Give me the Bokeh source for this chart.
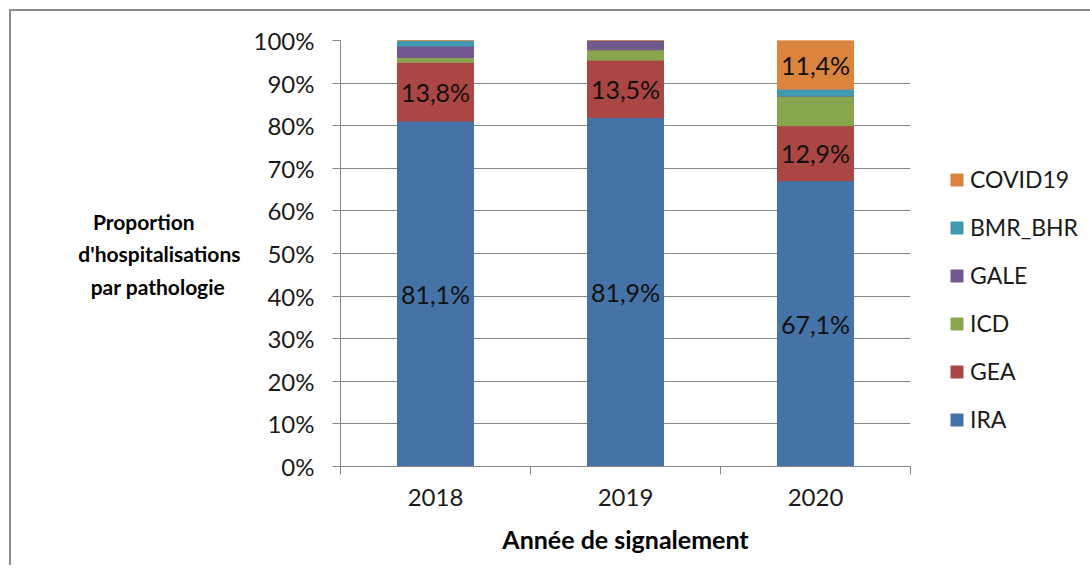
from bokeh.plotting import figure
from bokeh.layouts import column
from bokeh.models import (ColumnDataSource, FixedTicker, Range1d, Legend, LegendItem,
                          PrintfTickFormatter)
from bokeh.core.properties import value
from bokeh.embed import file_html
from bokeh.resources import INLINE

# ---- data -------------------------------------------------------------
years = ["2018", "2019", "2020"]
IRA = [81.1, 81.9, 67.1]
GEA = [13.8, 13.5, 12.9]
ICD = [1.1, 2.4, 7.0]
GALE = [2.7, 2.2, 0.0]
BMR_BHR = [1.3, 0.0, 1.6]
COVID19 = [0.0, 0.0, 11.4]

series = ["IRA", "GEA", "ICD", "GALE", "BMR_BHR", "COVID19"]
series_values = [IRA, GEA, ICD, GALE, BMR_BHR, COVID19]
colors = ["#4572A7", "#AA4643", "#89A54E", "#71588F", "#4198AF", "#DB843D"]
y_ticks = list(range(0, 101, 10))

FONT = "Lato"
GRAY = "#868686"
NB = "\u00a0"

x = [i + 0.5 for i in range(len(years))]
data = {"x": x}
for name, vals in zip(series, series_values):
    data[name] = vals
src = ColumnDataSource(data)

p = figure(frame_width=568, frame_height=424,
           x_range=Range1d(0, len(years)), y_range=Range1d(0, 100),
           output_backend="svg", toolbar_location=None,
           min_border_left=329, min_border_right=166,
           min_border_top=29, min_border_bottom=101)
p.styles = {"border-left": "2px solid #8c8c8c", "border-top": "2px solid #8c8c8c"}
p.margin = (9, 0, 0, 9)
p.outline_line_color = None
p.background_fill_color = "white"

renderers = p.vbar_stack(series, x="x", width=0.4, color=colors, source=src)

# data labels (segments >= 10 %)
lx, ly, lt = [], [], []
bottoms = [0.0] * len(years)
for vals in series_values:
    for i, v in enumerate(vals):
        if v >= 10:
            lx.append(x[i])
            ly.append(bottoms[i] + v / 2)
            lt.append(f"{v:.1f}".replace(".", ",") + "%")
        bottoms[i] += v
p.text(x=lx, y=ly, text=lt, text_align="center", text_baseline="middle",
       text_font=value(FONT), text_font_size="25px", text_color="#111111")

# y axis
p.yaxis.ticker = FixedTicker(ticks=y_ticks)
p.yaxis.formatter = PrintfTickFormatter(format="%d%%")
p.yaxis.major_tick_out = 8
p.yaxis.major_tick_in = 0
p.yaxis.minor_tick_line_color = None
p.yaxis.axis_line_color = GRAY
p.yaxis.major_tick_line_color = GRAY
p.yaxis.major_label_text_font = FONT
p.yaxis.major_label_text_font_size = "24px"
p.yaxis.major_label_text_color = "#1a1a1a"
p.yaxis.major_label_standoff = 18
p.yaxis.axis_label = ("Proportion" + NB * 9 + "\n" + "d'hospitalisations" + "\n"
                      + "par pathologie" + NB * 3)
p.yaxis.axis_label_orientation = "horizontal"
p.yaxis.axis_label_text_font = FONT
p.yaxis.axis_label_text_font_style = "bold"
p.yaxis.axis_label_text_font_size = "21px"
p.yaxis.axis_label_text_color = "#000000"
p.yaxis.axis_label_text_line_height = 1.3
p.yaxis.axis_label_standoff = 10

# x axis
p.xaxis.ticker = FixedTicker(ticks=x, minor_ticks=list(range(len(years) + 1)))
p.xaxis.major_label_overrides = {xv: yr for xv, yr in zip(x, years)}
p.xaxis.major_tick_out = 0
p.xaxis.major_tick_in = 0
p.xaxis.minor_tick_out = 8
p.xaxis.minor_tick_in = 0
p.xaxis.minor_tick_line_color = GRAY
p.xaxis.axis_line_color = GRAY
p.xaxis.major_label_text_font = FONT
p.xaxis.major_label_text_font_size = "24px"
p.xaxis.major_label_text_color = "#1a1a1a"
p.xaxis.major_label_standoff = 14
p.xaxis.axis_label = "Année de signalement"
p.xaxis.axis_label_text_font = FONT
p.xaxis.axis_label_text_font_style = "bold"
p.xaxis.axis_label_text_font_size = "25px"
p.xaxis.axis_label_text_color = "#000000"
p.xaxis.axis_label_standoff = 15

p.xgrid.visible = False
p.ygrid.ticker = FixedTicker(ticks=y_ticks)
p.ygrid.grid_line_color = GRAY

# legend
items = [LegendItem(label=name, renderers=[r]) for name, r in zip(series, renderers)][::-1]
legend = Legend(items=items, location=(39, 33), padding=0, margin=0,
                spacing=20, label_height=20, glyph_height=15, glyph_width=15,
                label_standoff=6, border_line_color=None, background_fill_alpha=0,
                label_text_font=FONT, label_text_font_size="23px",
                label_text_color="#1a1a1a")
p.add_layout(legend, "right")

root = column(p)
open("out.html", "w").write(file_html(root, INLINE))
